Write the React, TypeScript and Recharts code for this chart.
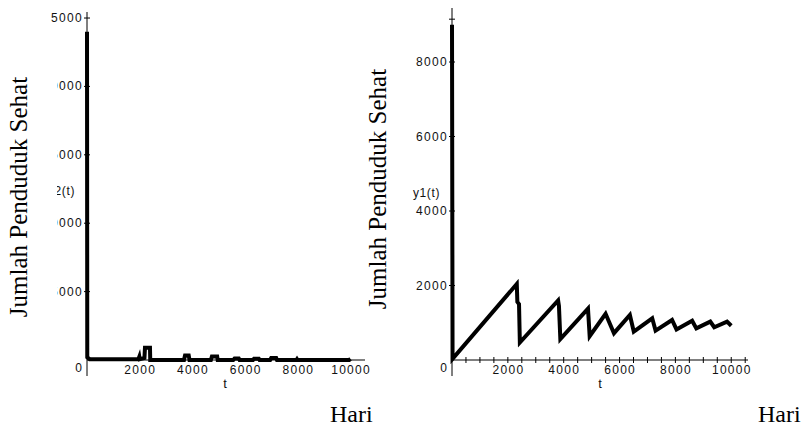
import React from "react";
import { LineChart, Line, XAxis, YAxis, ReferenceLine } from "recharts";

// ---- Data: left chart y2(t) ----
const Y2_T = [0, 10, 100, 1950, 1985, 2000, 2180, 2200, 2390, 2400, 3680, 3720, 3860, 3890, 4700, 4740, 4940, 4960, 5550, 5600, 5760, 5790, 6300, 6340, 6520, 6550, 6950, 6990, 7180, 7210, 7950, 7970, 7990, 9950, 10000];
const Y2_V = [24000, 200, 60, 60, 240, 60, 150, 900, 900, 0, 0, 330, 330, 0, 0, 260, 260, 0, 0, 110, 110, 0, 0, 100, 100, 0, 0, 140, 140, 0, 0, 60, 0, 0, 80];

// ---- Data: right chart y1(t) ----
const Y1_T = [0, 20, 2320, 2340, 2400, 2430, 3800, 3830, 3880, 4870, 4880, 4930, 5500, 5800, 6370, 6510, 7170, 7290, 7880, 8040, 8600, 8750, 9250, 9390, 9850, 10000];
const Y1_V = [9000, 30, 2040, 1560, 1500, 470, 1600, 1450, 560, 1380, 1250, 640, 1240, 720, 1210, 760, 1120, 790, 1075, 820, 1055, 850, 1030, 880, 1030, 920];

// ---- Ticks ----
const LEFT_X_TICKS = [0, 2000, 4000, 6000, 8000, 10000];
const LEFT_Y_TICKS = [0, 5000, 10000, 15000, 20000, 25000];
const RIGHT_X_TICKS = [0, 500, 1000, 1500, 2000, 2500, 3000, 3500, 4000, 4500, 5000, 5500, 6000, 6500, 7000, 7500, 8000, 8500, 9000, 9500, 10000, 10500];
const RIGHT_Y_TICKS = [0, 2000, 4000, 6000, 8000, 9150];
const RIGHT_Y_LABELLED = [2000, 4000, 6000, 8000];

const leftData = Y2_T.map((t, i) => ({ t, v: Y2_V[i] }));
const rightData = Y1_T.map((t, i) => ({ t, v: Y1_V[i] }));

const SANS = "'Liberation Sans', Arial, sans-serif";
const SERIF = "'Liberation Serif', 'Times New Roman', serif";
const tickStyle = { letterSpacing: "1.3px" };

const YTick = (props: any) => {
  const { x, y, payload, labelled } = props;
  const v = payload.value;
  const show = labelled ? labelled.includes(v) : v !== 0;
  return (
    <g>
      {v !== 0 && <line x1={x - 3} x2={x + 3} y1={y} y2={y} stroke="#000" strokeWidth={1} />}
      {show && (
        <text x={x - 4} y={y} textAnchor="end" dominantBaseline="central" fontSize={12} style={tickStyle} fontFamily={SANS} fill="#111">
          {v}
        </text>
      )}
      {v === 0 && (
        <text x={x - 5} y={y + 8} textAnchor="end" dominantBaseline="central" fontSize={12} fontFamily={SANS} fill="#111">
          0
        </text>
      )}
    </g>
  );
};

const XTick = (props: any) => {
  const { x, y, payload, minor } = props;
  const v = payload.value;
  const major = v % 2000 === 0 && v !== 0;
  return (
    <g>
      {minor && v !== 0 && <line x1={x} x2={x} y1={y - 3} y2={y + 3} stroke="#000" strokeWidth={1} />}
      {major && (
        <text x={x + 0.6} y={y + 10} textAnchor="middle" dominantBaseline="central" fontSize={12} style={tickStyle} fontFamily={SANS} fill="#111">
          {v}
        </text>
      )}
    </g>
  );
};

export default function App() {
  return (
    <div style={{ position: "absolute", left: 0, top: 0, width: 802, height: 429, background: "#fff", overflow: "hidden" }}>
      <div style={{ position: "absolute", left: 0, top: 0 }}>
        <LineChart width={380} height={429} data={leftData} margin={{ top: 12, right: 15, bottom: 39, left: 0 }}>
          <XAxis
            dataKey="t"
            type="number"
            domain={[0, 10550]}
            ticks={LEFT_X_TICKS}
            interval={0}
            tickSize={0}
            tickMargin={0}
            height={30}
            stroke="#000"
            tick={<XTick minor={false} />}
          />
          <YAxis
            type="number"
            domain={[0, 25440]}
            ticks={LEFT_Y_TICKS}
            interval={0}
            tickSize={0}
            tickMargin={0}
            width={87}
            stroke="#000"
            tick={<YTick />}
          />
          <ReferenceLine segment={[{ x: 0, y: 0 }, { x: 0, y: -1170 }]} stroke="#000" ifOverflow="visible" />
          <Line type="linear" dataKey="v" stroke="#000" strokeWidth={4} dot={false} isAnimationActive={false} />
        </LineChart>
      </div>
      <div style={{ position: "absolute", left: 380, top: 0 }}>
        <LineChart width={400} height={429} data={rightData} margin={{ top: 8, right: 32, bottom: 39, left: 0 }}>
          <XAxis
            dataKey="t"
            type="number"
            domain={[0, 10600]}
            ticks={RIGHT_X_TICKS}
            interval={0}
            tickSize={0}
            tickMargin={0}
            height={30}
            stroke="#000"
            tick={<XTick minor={true} />}
          />
          <YAxis
            type="number"
            domain={[0, 9450]}
            ticks={RIGHT_Y_TICKS}
            interval={0}
            tickSize={0}
            tickMargin={0}
            width={72}
            stroke="#000"
            tick={<YTick labelled={RIGHT_Y_LABELLED} />}
          />
          <ReferenceLine segment={[{ x: 0, y: 0 }, { x: 0, y: -430 }]} stroke="#000" ifOverflow="visible" />
          <Line type="linear" dataKey="v" stroke="#000" strokeWidth={4} dot={false} isAnimationActive={false} />
        </LineChart>
      </div>
      <svg width={802} height={429} style={{ position: "absolute", left: 0, top: 0, pointerEvents: "none" }}>
        <text x={75} y={195} textAnchor="end" fontSize={12} style={{ letterSpacing: "0.6px" }} fontFamily={SANS} fill="#111">y2(t)</text>
        <rect x={0} y={0} width={51} height={429} fill="#fff" />
        <rect x={0} y={60} width={57} height={290} fill="#fff" />
        <text transform="translate(27,197) rotate(-90)" textAnchor="middle" fontSize={25} fontFamily={SERIF} fill="#000">
          Jumlah Penduduk Sehat
        </text>
        <text transform="translate(386,189) rotate(-90)" textAnchor="middle" fontSize={25} fontFamily={SERIF} fill="#000">
          Jumlah Penduduk Sehat
        </text>
        <text x={413} y={197} fontSize={12} style={{ letterSpacing: "0.6px" }} fontFamily={SANS} fill="#111">y1(t)</text>
        <text x={225} y={388} textAnchor="middle" fontSize={13} fontFamily={SANS} fill="#111">t</text>
        <text x={600} y={388} textAnchor="middle" fontSize={13} fontFamily={SANS} fill="#111">t</text>
        <text x={330} y={422} fontSize={24} fontFamily={SERIF} fill="#000">Hari</text>
        <text x={758} y={422} fontSize={24} fontFamily={SERIF} fill="#000">Hari</text>
      </svg>
    </div>
  );
}
